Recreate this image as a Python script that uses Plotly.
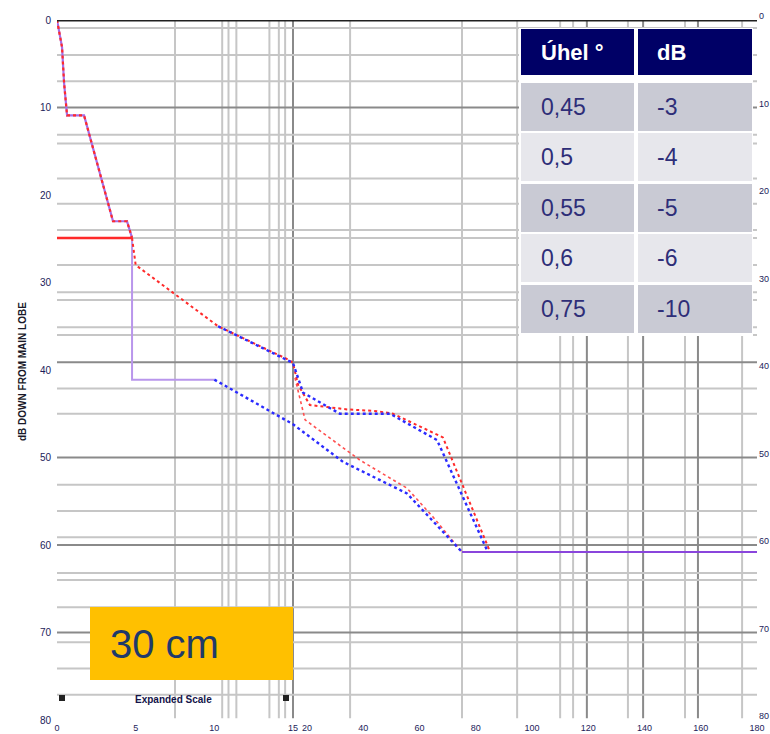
import plotly.graph_objects as go

# ---- envelope data: angle off boresight (degrees) vs attenuation (dB down from main lobe) ----
main_lobe_deg = [0, 0.32, 0.45, 0.64, 1.72, 3.56, 4.45, 4.77]
main_lobe_db = [0, 3.1, 7.2, 10.9, 10.9, 23.0, 23.0, 24.9]

step_deg = [4.77, 4.77, 10.0]
step_db = [24.9, 41.1, 41.1]

red_plateau_deg = [0, 4.77]
red_plateau_db = [24.9, 24.9]

red_upper_deg = [4.77, 5.0, 10.24, 14.8, 15.0, 16.8, 21.0, 34.2, 44.9, 50.6, 68.3, 85.1]
red_upper_db = [24.9, 28.0, 35.0, 38.9, 39.2, 41.7, 44.0, 44.5, 44.7, 45.0, 47.7, 60.8]

red_lower_deg = [15.7, 19.3, 38.8, 55.5, 64.8, 75.1]
red_lower_db = [40.9, 45.7, 50.3, 53.5, 56.8, 60.8]

blue_upper_deg = [10.24, 15.0, 18.6, 31.7, 49.5, 66.2, 84.3]
blue_upper_db = [35.0, 39.2, 42.6, 45.0, 45.0, 48.0, 60.8]

blue_lower_deg = [10.0, 15.0, 32.8, 53.1, 55.5, 75.1]
blue_lower_db = [41.1, 46.2, 50.5, 53.7, 54.1, 60.8]

floor_deg = [75.1, 180]
floor_db = [60.8, 60.8]

# axis ticks
x_tick_deg = [0, 5, 10, 15, 20, 40, 60, 80, 100, 120, 140, 160, 180]
y_tick_db = [0, 10, 20, 30, 40, 50, 60, 70, 80]

# background chart-paper grid
grid_v_light_deg = [7.5, 10.5, 10.9, 11.4, 13.5, 14.1, 14.5, 35.3, 75.1, 94.7,
                    110.0, 114.6, 134.1, 154.4, 174.7]
grid_v_dark_deg = [15.0, 119.5, 139.5, 159.0]
grid_h_light_db = [0.9, 4.0, 7.0, 13.1, 14.1, 18.1, 21.0, 24.0, 24.9, 28.0, 31.1,
                   32.0, 35.1, 36.0, 42.1, 45.0, 53.1, 56.1, 59.1, 63.2, 64.0,
                   67.1, 71.1, 74.1, 77.1]
grid_h_dark_db = [10.0, 39.1, 50.0, 60.0, 70.0]

# beamwidth table
table_header = ["Úhel °", "dB"]
table_angle = ["0,45", "0,5", "0,55", "0,6", "0,75"]
table_db = ["-3", "-4", "-5", "-6", "-10"]

# ---- horizontal scale: 0-15 deg expanded, 15-180 deg compressed ----
EXP_END = 15.0
EXP_LEN = 236.0
TOTAL_LEN = 700.0


def to_axis(d):
    if d <= EXP_END:
        return d * EXP_LEN / EXP_END
    return EXP_LEN + (d - EXP_END) * (TOTAL_LEN - EXP_LEN) / (180.0 - EXP_END)


def ax(lst):
    return [to_axis(v) for v in lst]


W, H = 770, 734
ML, MR, MT, MB = 57, 13, 20, 14
PW, PH = W - ML - MR, H - MT - MB


def px(x):
    return (x - ML) / PW


def py(y):
    return 1 - (y - MT) / PH


RED = "#ff2a2a"
BLUE = "#2b2bff"
PURPLE = "#a66ee8"
FONT = "Arial, Liberation Sans, sans-serif"

fig = go.Figure()

# main lobe (purple with red dashes) and the step down to the first sidelobe floor
fig.add_trace(go.Scatter(x=ax(main_lobe_deg), y=main_lobe_db, mode="lines",
                         line=dict(color=PURPLE, width=2.2)))
fig.add_trace(go.Scatter(x=ax(main_lobe_deg), y=main_lobe_db, mode="lines",
                         line=dict(color=RED, width=2.2, dash="3px,3px")))
fig.add_trace(go.Scatter(x=ax(step_deg), y=step_db, mode="lines",
                         line=dict(color="#b996ec", width=2)))
fig.add_trace(go.Scatter(x=ax(red_plateau_deg), y=red_plateau_db, mode="lines",
                         line=dict(color=RED, width=2.5)))
fig.add_trace(go.Scatter(x=ax(red_upper_deg), y=red_upper_db, mode="lines",
                         line=dict(color=RED, width=2, dash="dot")))
fig.add_trace(go.Scatter(x=ax(red_lower_deg), y=red_lower_db, mode="lines",
                         line=dict(color="#ff5050", width=1.6, dash="dot")))
fig.add_trace(go.Scatter(x=ax(blue_upper_deg), y=blue_upper_db, mode="lines",
                         line=dict(color=BLUE, width=2.4, dash="dot")))
fig.add_trace(go.Scatter(x=ax(blue_lower_deg), y=blue_lower_db, mode="lines",
                         line=dict(color=BLUE, width=2.4, dash="dot")))
fig.add_trace(go.Scatter(x=ax(floor_deg), y=floor_db, mode="lines",
                         line=dict(color="#8a45dc", width=2.2)))
# carrier for the right-hand dB scale
fig.add_trace(go.Scatter(x=[0], y=[0], yaxis="y2", mode="markers",
                         marker=dict(opacity=0), hoverinfo="skip"))

shapes = []
for d in grid_v_light_deg:
    shapes.append(dict(type="line", xref="x", yref="y", x0=to_axis(d), x1=to_axis(d),
                       y0=0, y1=79.8, line=dict(color="#c6c6c6", width=2), layer="below"))
for d in grid_v_dark_deg:
    shapes.append(dict(type="line", xref="x", yref="y", x0=to_axis(d), x1=to_axis(d),
                       y0=0, y1=79.8, line=dict(color="#8a8a8a", width=2), layer="below"))
for v in grid_h_light_db:
    shapes.append(dict(type="line", xref="x", yref="y", x0=0, x1=TOTAL_LEN,
                       y0=v, y1=v, line=dict(color="#c6c6c6", width=2), layer="below"))
for v in grid_h_dark_db:
    shapes.append(dict(type="line", xref="x", yref="y", x0=0, x1=TOTAL_LEN,
                       y0=v, y1=v, line=dict(color="#8a8a8a", width=2), layer="below"))
# top border
shapes.append(dict(type="line", xref="x", yref="y", x0=-2, x1=TOTAL_LEN, y0=0, y1=0,
                   line=dict(color="#202020", width=3)))

# expanded-scale end markers
for xm in (62, 286):
    shapes.append(dict(type="rect", xref="paper", yref="paper",
                       x0=px(xm - 3), x1=px(xm + 3), y0=py(701), y1=py(695),
                       fillcolor="#222222", line=dict(width=0)))

# size tag box
shapes.append(dict(type="rect", xref="paper", yref="paper",
                   x0=px(90), x1=px(293), y0=py(680), y1=py(607),
                   fillcolor="#ffc000", line=dict(width=0), layer="above"))

# beamwidth table
TX0, TX1 = 519, 753
shapes.append(dict(type="rect", xref="paper", yref="paper",
                   x0=px(TX0), x1=px(TX1), y0=py(336), y1=py(28),
                   fillcolor="white", line=dict(width=0), layer="above"))
COLS = [(521, 634), (638, 752)]
for c0, c1 in COLS:
    shapes.append(dict(type="rect", xref="paper", yref="paper",
                       x0=px(c0), x1=px(c1), y0=py(75), y1=py(29),
                       fillcolor="#000066", line=dict(width=0), layer="above"))
row_tops = [83, 133, 184, 234, 285]
row_h = 48
row_fill = ["#c9cad4", "#e7e7ec", "#c9cad4", "#e7e7ec", "#c9cad4"]
for top, fill in zip(row_tops, row_fill):
    for c0, c1 in COLS:
        shapes.append(dict(type="rect", xref="paper", yref="paper",
                           x0=px(c0), x1=px(c1), y0=py(top + row_h), y1=py(top),
                           fillcolor=fill, line=dict(width=0), layer="above"))


def note(text, x, y, size, color, xanchor="center", angle=0):
    return dict(text=text, xref="paper", yref="paper", x=px(x), y=py(y),
                xanchor=xanchor, yanchor="middle", textangle=angle, showarrow=False,
                font=dict(family=FONT, size=size, color=color))


annotations = [
    note("<b>dB DOWN FROM MAIN LOBE</b>", 22, 372, 10, "#1a1a2a", angle=-90),
    note("<b>Expanded Scale</b>", 173, 699, 10, "#14144a"),
    note("30 cm", 108, 644, 40, "#1f3a6a", xanchor="left"),
]

TEXT_X = [539, 655]
for xt, txt in zip(TEXT_X, table_header):
    annotations.append(note("<b>" + txt + "</b>", xt, 52, 22, "white", xanchor="left"))
for top, a, d in zip(row_tops, table_angle, table_db):
    yc = top + row_h / 2
    annotations.append(note(a, TEXT_X[0], yc, 23, "#2e2e78", xanchor="left"))
    annotations.append(note(d, TEXT_X[1], yc, 23, "#2e2e78", xanchor="left"))

tick_font = dict(family=FONT, size=10, color="#1c1c5a")
small_tick_font = dict(family=FONT, size=9, color="#1c1c5a")
fig.update_layout(
    width=W, height=H,
    margin=dict(l=ML, r=MR, t=MT, b=MB, autoexpand=False),
    paper_bgcolor="white", plot_bgcolor="white",
    showlegend=False,
    xaxis=dict(range=[0, TOTAL_LEN], showgrid=False, zeroline=False, showline=False,
               automargin=False, tickmode="array", tickvals=ax(x_tick_deg),
               ticktext=[str(v) for v in x_tick_deg], ticks="", tickfont=small_tick_font,
               ticklabelstandoff=1),
    yaxis=dict(range=[80, 0], showgrid=False, zeroline=False, showline=False,
               automargin=False, tickmode="array", tickvals=y_tick_db, ticks="",
               tickfont=tick_font, ticklabelstandoff=5),
    yaxis2=dict(range=[80, 0], overlaying="y", side="right", showgrid=False,
                zeroline=False, showline=False, automargin=False, tickmode="array",
                tickvals=y_tick_db, ticks="", tickfont=small_tick_font,
                ticklabelstandoff=1, ticklabelshift=4),
    shapes=shapes,
    annotations=annotations,
)

fig.write_html("out.html")
